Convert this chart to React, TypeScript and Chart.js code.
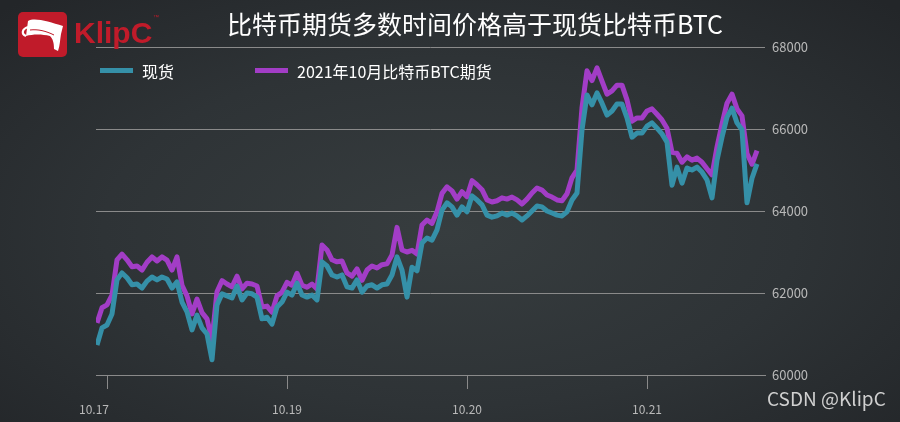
import React, { useEffect, useRef } from "react";
import { Chart, registerables } from "chart.js";

Chart.register(...registerables);

// ---- data (sampled every 40 minutes) ----
const SERIES_NAMES = ["现货", "2021年10月比特币BTC期货"];
const TITLE = "比特币期货多数时间价格高于现货比特币BTC";

const SPOT: number[] = [
  60730, 61150, 61220, 61490, 62320, 62490, 62370, 62200, 62220, 62120,
  62290, 62390, 62320, 62390, 62340, 62120, 62270, 61780, 61540, 61100,
  61460, 61150, 61000, 60370, 61710, 61980, 61930, 61880, 62170, 61830,
  62000, 61980, 61900, 61370, 61410, 61240, 61660, 61780, 62020, 61950,
  62240, 61950, 61900, 61950, 61830, 62760, 62660, 62440, 62390, 62440,
  62150, 62120, 62320, 62020, 62170, 62200, 62120, 62200, 62220, 62440,
  62880, 62560, 61900, 62630, 62540, 63220, 63340, 63290, 63540, 64020,
  64200, 64100, 63900, 64100, 63980, 64370, 64270, 64150, 63900, 63850,
  63880, 63950, 63900, 63950, 63880, 63780, 63880, 64000, 64120, 64100,
  64000, 63950, 63900, 63880, 63980, 64270, 64440, 65980, 66830, 66590,
  66880, 66630, 66340, 66440, 66610, 66610, 66270, 65800, 65900, 65900,
  66070, 66150, 66020, 65880, 65680, 64630, 65070, 64680, 65050, 65000,
  65070, 64950, 64760, 64320, 65240, 65800, 66290, 66510, 66150, 65980,
  64200, 64800, 65150,
];

const FUTURES: number[] = [
  61270, 61640, 61710, 61950, 62810, 62950, 62810, 62640, 62660, 62560,
  62750, 62880, 62780, 62880, 62800, 62560, 62880, 62190, 61930, 61490,
  61850, 61520, 61370, 60860, 62030, 62300, 62220, 62150, 62410, 62100,
  62240, 62220, 62170, 61660, 61680, 61530, 61930, 62020, 62260, 62190,
  62480, 62190, 62140, 62220, 62100, 63170, 63050, 62810, 62760, 62780,
  62490, 62410, 62590, 62310, 62560, 62660, 62610, 62690, 62710, 62930,
  63600, 63050, 63000, 63040, 62950, 63660, 63780, 63700, 63980, 64430,
  64590, 64490, 64290, 64470, 64350, 64740, 64640, 64520, 64270, 64220,
  64250, 64320, 64290, 64340, 64270, 64170, 64290, 64440, 64560, 64510,
  64390, 64340, 64270, 64250, 64420, 64810, 65000, 66520, 67420, 67180,
  67490, 67170, 66850, 66930, 67070, 67070, 66710, 66190, 66270, 66270,
  66440, 66490, 66360, 66220, 66020, 65430, 65410, 65190, 65320, 65240,
  65290, 65190, 65030, 64880, 65560, 66120, 66630, 66850, 66490, 66320,
  65400, 65140, 65470,
];

// x tick labels and the sample index at which each date starts
const X_TICK_LABELS = ["10.17", "10.19", "10.20", "10.21"];
const X_TICK_INDEX = [2, 38, 74, 110];

const Y_MIN = 60000;
const Y_MAX = 68000;
const Y_STEP = 2000;

// ---- styles ----
const TEAL = "#3590a8";
const PURPLE = "#a23dc6";
const AXIS_GREY = "#8a8a8a";
const TICK_TEXT = "#b9b9b9";
const FONT = '"Noto Sans CJK SC", "Noto Sans", sans-serif';
const FIRST_LABEL_SHIFT = -2.6;

const tickMarks = {
  id: "tickMarks",
  afterDraw(chart: any) {
    const xs = chart.scales.x;
    const { ctx, chartArea } = chart;
    ctx.save();
    ctx.strokeStyle = AXIS_GREY;
    ctx.lineWidth = 1;
    for (const v of X_TICK_INDEX) {
      const px = Math.round(xs.getPixelForValue(v)) + 0.5;
      ctx.beginPath();
      ctx.moveTo(px, chartArea.bottom);
      ctx.lineTo(px, chartArea.bottom + 14);
      ctx.stroke();
    }
    ctx.restore();
  },
};

export default function App() {
  const ref = useRef<HTMLCanvasElement | null>(null);

  useEffect(() => {
    if (!ref.current) return;
    const idx = SPOT.map((_, i) => i);
    const chart = new Chart(ref.current, {
      type: "line",
      data: {
        datasets: [
          {
            label: SERIES_NAMES[0],
            data: SPOT.map((v, i) => ({ x: idx[i], y: v })),
            borderColor: TEAL,
            backgroundColor: TEAL,
            borderWidth: 5,
            borderJoinStyle: "round",
            pointRadius: 0,
            tension: 0,
          },
          {
            label: SERIES_NAMES[1],
            data: FUTURES.map((v, i) => ({ x: idx[i], y: v })),
            borderColor: PURPLE,
            backgroundColor: PURPLE,
            borderWidth: 5,
            borderJoinStyle: "round",
            pointRadius: 0,
            tension: 0,
          },
        ],
      },
      options: {
        animation: false,
        responsive: false,
        maintainAspectRatio: false,
        layout: { padding: { left: 96, top: 47, right: 0, bottom: 0 } },
        plugins: {
          legend: { display: false },
          title: { display: false },
          tooltip: { enabled: false },
        },
        scales: {
          x: {
            type: "linear",
            min: -0.2,
            max: 133.6,
            afterBuildTicks: (s: any) => {
              s.ticks = X_TICK_INDEX.map((v, i) => ({
                value: i === 0 ? v + FIRST_LABEL_SHIFT : v,
              }));
            },
            afterFit: (s: any) => {
              s.height = 47;
            },
            ticks: {
              autoSkip: false,
              maxRotation: 0,
              padding: 19,
              color: TICK_TEXT,
              font: { family: FONT, size: 12 },
              callback: (_v: any, i: number) => X_TICK_LABELS[i],
            },
            grid: { display: false },
            border: { display: true, color: AXIS_GREY, width: 1 },
          },
          y: {
            position: "right",
            min: Y_MIN,
            max: Y_MAX,
            afterFit: (s: any) => {
              s.width = 135;
            },
            ticks: {
              stepSize: Y_STEP,
              padding: 7,
              color: TICK_TEXT,
              font: { family: FONT, size: 13 },
              callback: (v: any) => String(v),
            },
            grid: { color: AXIS_GREY, lineWidth: 1, drawTicks: false },
            border: { display: false },
          },
        },
      },
      plugins: [tickMarks],
    });
    return () => chart.destroy();
  }, []);

  return (
    <div
      style={{
        position: "fixed",
        left: 0,
        top: 0,
        width: 900,
        height: 422,
        overflow: "hidden",
        background:
          "radial-gradient(ellipse 70% 75% at 50% 55%, #373d3f 0%, #2e3336 55%, #232629 100%)",
        fontFamily: FONT,
      }}
    >
      <canvas
        ref={ref}
        width={900}
        height={422}
        style={{ position: "absolute", left: 0, top: 0, width: 900, height: 422 }}
      />
      {/* logo */}
      <div
        style={{
          position: "absolute",
          left: 18,
          top: 12,
          width: 49,
          height: 45,
          borderRadius: 5,
          background: "#c01b2a",
        }}
      >
        <svg width={49} height={45} viewBox="0 0 49 45">
          <path
            d="M10 9 C17 5, 31 10, 45 14 L43 22 C42 28, 42 33, 40 39 L36 37 C36 31, 35 27, 32 24 C24 22, 15 22, 8 24 Z"
            fill="#ffffff"
          />
          <path d="M8 24 C3 22, 4 17, 10 15" stroke="#ffffff" strokeWidth={2.2} fill="none" />
          <path d="M12 18 C20 17, 28 19, 36 23" stroke="#c01b2a" strokeWidth={1} fill="none" />
        </svg>
      </div>
      <div
        style={{
          position: "absolute",
          left: 74,
          top: 17,
          fontFamily: '"Liberation Sans", Arial, sans-serif',
          fontWeight: 700,
          fontSize: 30,
          lineHeight: "32px",
          color: "#c01b2a",
          letterSpacing: 0,
        }}
      >
        KlipC
      </div>
      <div
        style={{
          position: "absolute",
          left: 153,
          top: 14,
          fontSize: 6,
          lineHeight: "6px",
          color: "#c01b2a",
          fontFamily: '"Liberation Sans", sans-serif',
        }}
      >
        ™
      </div>
      {/* title */}
      <div
        style={{
          position: "absolute",
          left: 227,
          top: 8,
          fontSize: 25,
          lineHeight: "30px",
          color: "#ffffff",
          whiteSpace: "nowrap",
        }}
      >
        {TITLE}
      </div>
      {/* legend */}
      <div style={{ position: "absolute", left: 100, top: 68, width: 33, height: 5, background: TEAL }} />
      <div
        style={{
          position: "absolute",
          left: 142,
          top: 60,
          fontSize: 16,
          lineHeight: "22px",
          color: "#ffffff",
          whiteSpace: "nowrap",
        }}
      >
        {SERIES_NAMES[0]}
      </div>
      <div style={{ position: "absolute", left: 255, top: 68, width: 33, height: 5, background: PURPLE }} />
      <div
        style={{
          position: "absolute",
          left: 297,
          top: 60,
          fontSize: 16,
          lineHeight: "22px",
          color: "#ffffff",
          whiteSpace: "nowrap",
        }}
      >
        {SERIES_NAMES[1]}
      </div>
      {/* watermark */}
      <div
        style={{
          position: "absolute",
          left: 767,
          top: 386,
          fontSize: 19,
          lineHeight: "24px",
          color: "#d0d0d0",
          whiteSpace: "nowrap",
        }}
      >
        CSDN @KlipC
      </div>
    </div>
  );
}
